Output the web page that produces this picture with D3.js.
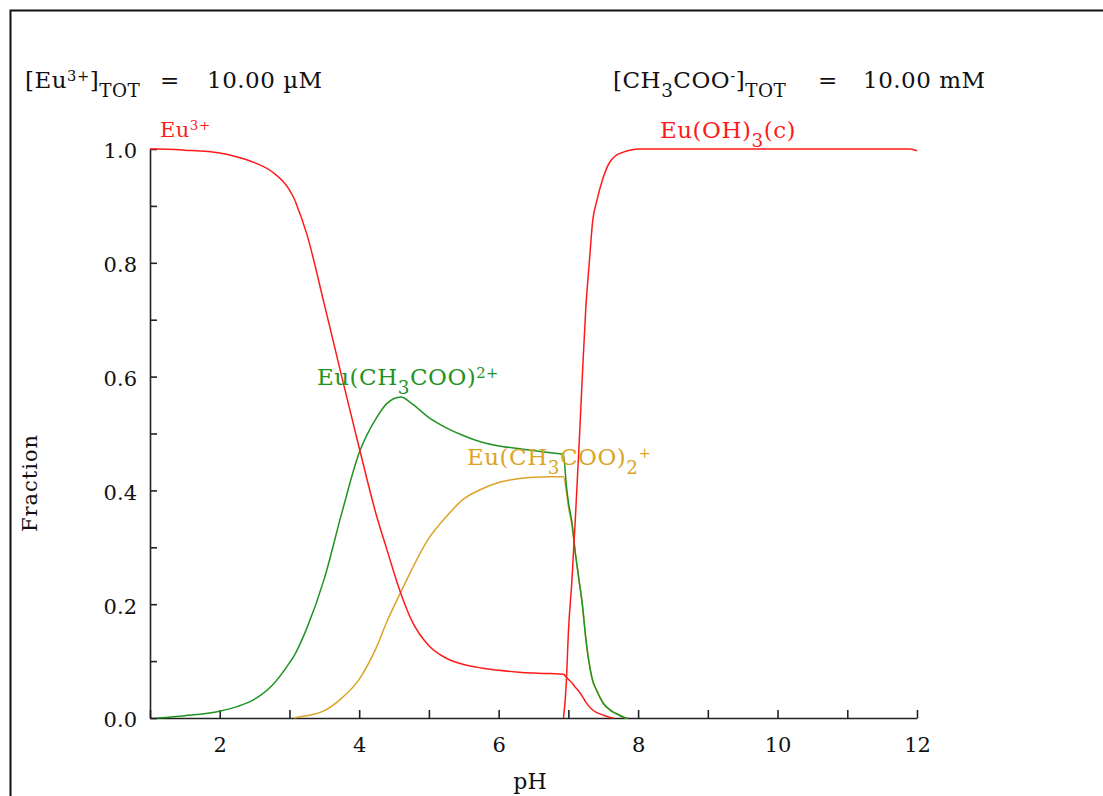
<!DOCTYPE html>
<html>
<head>
<meta charset="utf-8">
<script src="https://cdn.jsdelivr.net/npm/d3@7"></script>
<style>
  body { margin: 0; background: #fff; }
  svg { display: block; font-family: 'DejaVu Serif', serif; }
</style>
</head>
<body>
<div id="chart"></div>
<script>
'use strict'

// pH grid and fractions (null = not drawn)
const phValues = [1.0, 1.1, 1.5, 2.0, 2.25, 2.5, 2.75, 3.0, 3.07, 3.1, 3.25, 3.5, 3.75, 4.0, 4.25, 4.4, 4.6, 4.75, 5.0, 5.25,
  5.5, 5.75, 6.0, 6.25, 6.5, 6.75, 6.93, 6.97, 7.0, 7.05, 7.1, 7.15, 7.2, 7.25, 7.3, 7.35, 7.4, 7.5, 7.6, 7.65,
  7.7, 7.8, 7.85, 8.0, 9.0, 10.0, 11.0, 11.9, 12.0]
const eu3 = [1.000, 1.000, 0.998, 0.993, 0.986, 0.976, 0.960, 0.928, 0.912, 0.903, 0.850, 0.727, 0.600, 0.475, 0.355, 0.295, 0.218, 0.172, 0.127, 0.105,
  0.094, 0.088, 0.084, 0.081, 0.079, 0.078, 0.077, 0.072, 0.068, 0.062, 0.054, 0.047, 0.038, 0.028, 0.020, 0.014, 0.010, 0.005, 0.001, 0.000,
  null, null, null, null, null, null, null, null, null]
const euAc = [null, 0.000, 0.004, 0.012, 0.020, 0.033, 0.057, 0.097, 0.110, 0.117, 0.158, 0.245, 0.360, 0.466, 0.528, 0.553, 0.564, 0.553, 0.528, 0.510,
  0.496, 0.485, 0.478, 0.474, 0.470, 0.466, 0.463, 0.410, 0.380, 0.345, 0.290, 0.245, 0.200, 0.140, 0.095, 0.065, 0.050, 0.026, 0.014, 0.010,
  0.007, 0.001, 0.000, null, null, null, null, null, null]
const euAc2 = [null, null, null, null, null, null, null, null, 0.000, 0.001, 0.004, 0.013, 0.035, 0.068, 0.125, 0.170, 0.222, 0.260, 0.316, 0.354,
  0.385, 0.402, 0.414, 0.420, 0.423, 0.424, 0.424, 0.400, 0.372, 0.340, 0.290, 0.245, 0.200, 0.140, 0.095, 0.065, 0.050, 0.026, 0.014, 0.010,
  0.007, 0.001, 0.000, null, null, null, null, null, null]
const euOH3c = [null, null, null, null, null, null, null, null, null, null, null, null, null, null, null, null, null, null, null, null,
  null, null, null, null, null, null, 0.000, 0.060, 0.150, 0.240, 0.350, 0.470, 0.600, 0.720, 0.800, 0.875, 0.905, 0.950, 0.978, 0.985,
  0.990, 0.995, 0.997, 1.000, 1.000, 1.000, 1.000, 1.000, 0.997]

const xTicks = [1, 2, 3, 4, 5, 6, 7, 8, 9, 10, 11, 12]
const xLabels = [2, 4, 6, 8, 10, 12]
const yTicks = [0, 0.1, 0.2, 0.3, 0.4, 0.5, 0.6, 0.7, 0.8, 0.9, 1.0]
const yLabels = [0, 0.2, 0.4, 0.6, 0.8, 1.0]

const series = [
  { name: 'Eu(CH3COO)2+', values: euAc2, color: '#dba427' },
  { name: 'Eu(CH3COO)2+', values: euAc, color: '#1f9321' },
  { name: 'Eu3+', values: eu3, color: '#ff1a1a' },
  { name: 'Eu(OH)3(c)', values: euOH3c, color: '#ff1a1a' }
]

const width = 1103
const height = 796

const svg = d3.select('#chart')
  .append('svg')
  .attr('width', width)
  .attr('height', height)

// outer frame (left + top only visible)
svg.append('path')
  .attr('d', `M10.5,${height} V10.5 H${width}`)
  .attr('fill', 'none')
  .attr('stroke', '#111')
  .attr('stroke-width', 2)

const xScale = d3.scaleLinear().domain([1, 12]).range([150, 917])
const yScale = d3.scaleLinear().domain([0, 1]).range([718, 149])

svg.append('g')
  .attr('transform', `translate(0, ${yScale(0)})`)
  .call(d3.axisBottom(xScale)
    .tickValues(xTicks)
    .tickSizeInner(-8)
    .tickSizeOuter(0)
    .tickPadding(19)
    .tickFormat(d => xLabels.includes(d) ? d : ''))

const yAxis = svg.append('g')
  .attr('transform', `translate(${xScale(1)}, 0)`)
  .call(d3.axisLeft(yScale)
    .tickValues(yTicks)
    .tickSizeInner(-7)
    .tickSizeOuter(0)
    .tickPadding(13)
    .tickFormat(d => yLabels.some(v => Math.abs(v - d) < 1e-9) ? d.toFixed(1) : ''))

svg.selectAll('.domain, .tick line')
  .attr('stroke', '#222')
  .attr('stroke-width', 1.6)
svg.selectAll('.tick text')
  .attr('fill', '#111')
  .style('font-family', "'DejaVu Serif', serif")
  .style('font-size', '21px')
yAxis.selectAll('.tick text').attr('dy', '0.42em')

// curves
const line = d3.line()
  .defined(d => d[1] !== null)
  .x(d => xScale(d[0]))
  .y(d => yScale(d[1]))
  .curve(d3.curveMonotoneX)

series.forEach(s => {
  svg.append('path')
    .datum(phValues.map((p, i) => [p, s.values[i]]))
    .attr('d', line)
    .attr('fill', 'none')
    .attr('stroke', s.color)
    .attr('stroke-width', 1.5)
})

// text with sub/superscripts
function richText (x, y, parts, color, size) {
  const t = svg.append('text')
    .attr('x', x)
    .attr('y', y)
    .attr('fill', color)
    .style('font-size', size + 'px')
    .style('letter-spacing', '0.5px')
  let cur = 0
  parts.forEach(([str, kind]) => {
    let target = 0
    let fs = size
    if (kind === 'sup') { target = -7; fs = size * 0.64 }
    if (kind === 'sub') { target = 9; fs = size * 0.8 }
    t.append('tspan')
      .attr('dy', target - cur)
      .style('font-size', fs + 'px')
      .text(str)
    cur = target
  })
  return t
}

// header totals
richText(25, 88, [['[Eu'], ['3+', 'sup'], [']'], ['TOT', 'sub']], '#111', 23)
richText(160, 88, [['=']], '#111', 23)
richText(207, 88, [['10.00 \u00b5M']], '#111', 23)
richText(613, 88, [['[CH'], ['3', 'sub'], ['COO'], ['-', 'sup'], [']'], ['TOT', 'sub']], '#111', 23)
richText(818, 88, [['=']], '#111', 23)
richText(863, 88, [['10.00 mM']], '#111', 23)

// species labels
richText(160, 137, [['Eu'], ['3+', 'sup']], series[2].color, 21)
richText(660, 138, [['Eu(OH)'], ['3', 'sub'], ['(c)']], series[3].color, 23)
richText(317, 385, [['Eu(CH'], ['3', 'sub'], ['COO)'], ['2+', 'sup']], series[1].color, 23)
richText(467, 465, [['Eu(CH'], ['3', 'sub'], ['COO)'], ['2', 'sub'], ['+', 'sup']], series[0].color, 23)

// axis titles
svg.append('text')
  .attr('transform', 'translate(37, 483) rotate(-90)')
  .attr('text-anchor', 'middle')
  .attr('fill', '#111')
  .style('font-size', '21px')
  .style('letter-spacing', '1px')
  .text('Fraction')

svg.append('text')
  .attr('x', 530)
  .attr('y', 789)
  .attr('text-anchor', 'middle')
  .attr('fill', '#111')
  .style('font-size', '22px')
  .text('pH')
</script>
</body>
</html>
